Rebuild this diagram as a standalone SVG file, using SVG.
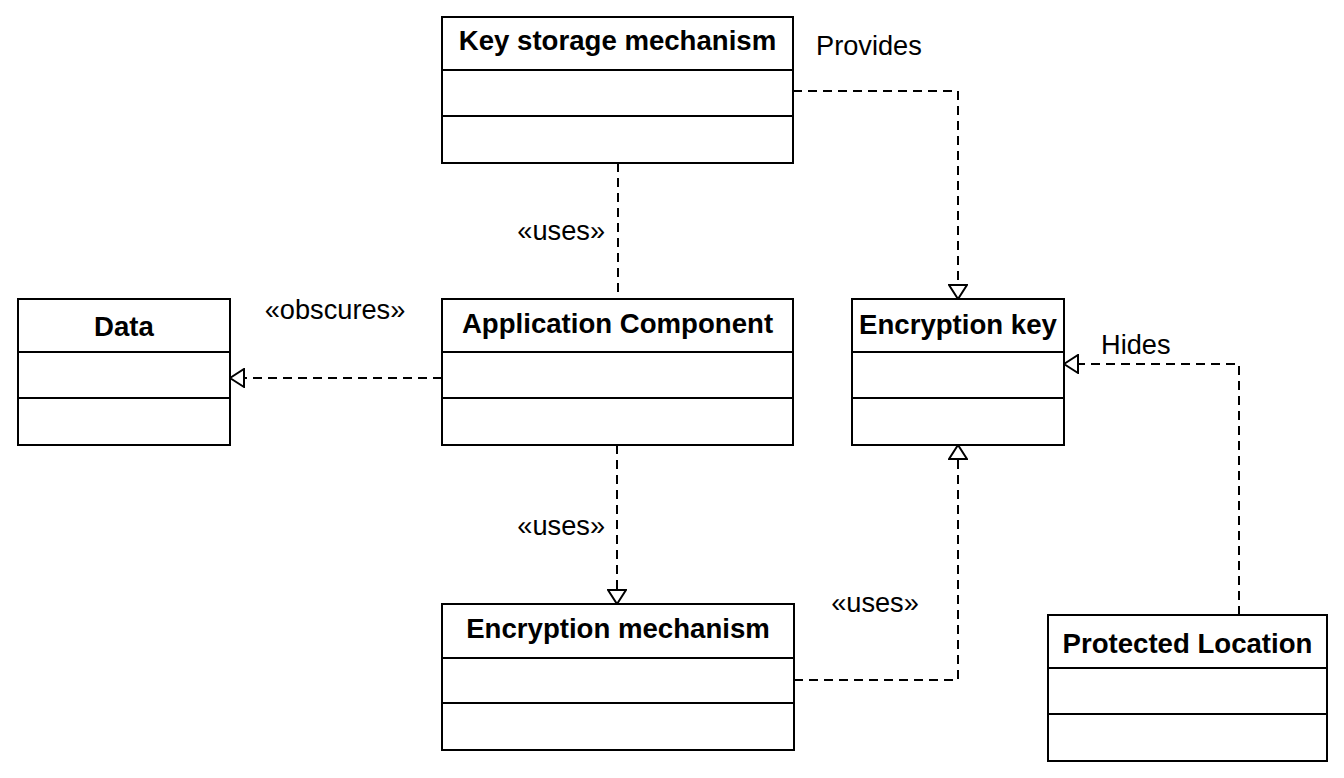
<svg xmlns="http://www.w3.org/2000/svg" width="1344" height="778" viewBox="0 0 1344 778">
<style>
.box{fill:#fff;stroke:#000;stroke-width:2}
.div{stroke:#000;stroke-width:2}
.title{font-family:"Liberation Sans",Arial,sans-serif;font-weight:bold;font-size:27.6px;text-anchor:middle;fill:#000}
.lbl{font-family:"Liberation Sans",Arial,sans-serif;font-size:27.2px;fill:#000}
.edge{fill:none;stroke:#000;stroke-width:2;stroke-dasharray:9 6}
</style>
<defs>
<marker id="tri" viewBox="0 0 16 20" refX="15" refY="10" markerWidth="16" markerHeight="20" markerUnits="userSpaceOnUse" orient="auto">
<path d="M1,1 L15,10 L1,19 Z" fill="#fff" stroke="#000" stroke-width="2"/>
</marker>
</defs>
<rect width="1344" height="778" fill="#fff"/>
<g id="connectors">
<path class="edge" d="M618,163 L618,299"/>
<path class="edge" d="M793,91 L958,91 L958,299" marker-end="url(#tri)"/>
<path class="edge" d="M442,378 L230,378" marker-end="url(#tri)"/>
<path class="edge" d="M617,445 L617,604" marker-end="url(#tri)"/>
<path class="edge" d="M794,680 L958,680 L958,445" marker-end="url(#tri)"/>
<path class="edge" d="M1239,615 L1239,364 L1064,364" marker-end="url(#tri)"/>
<text class="lbl" x="605" y="240" text-anchor="end">«uses»</text>
<text class="lbl" x="816" y="55">Provides</text>
<text class="lbl" x="335" y="319" text-anchor="middle">«obscures»</text>
<text class="lbl" x="605" y="535" text-anchor="end">«uses»</text>
<text class="lbl" x="875" y="612" text-anchor="middle">«uses»</text>
<text class="lbl" x="1101" y="354">Hides</text>
</g>
<g id="key-storage">
<rect class="box" x="442" y="17" width="351" height="146"/>
<line class="div" x1="442" y1="70" x2="793" y2="70"/>
<line class="div" x1="442" y1="116" x2="793" y2="116"/>
<text class="title" x="617.5" y="50">Key storage mechanism</text>
</g>
<g id="app-component">
<rect class="box" x="442" y="299" width="351" height="146"/>
<line class="div" x1="442" y1="352" x2="793" y2="352"/>
<line class="div" x1="442" y1="398" x2="793" y2="398"/>
<text class="title" x="617.5" y="333">Application Component</text>
</g>
<g id="data">
<rect class="box" x="18" y="299" width="212" height="146"/>
<line class="div" x1="18" y1="352" x2="230" y2="352"/>
<line class="div" x1="18" y1="398" x2="230" y2="398"/>
<text class="title" x="124" y="336">Data</text>
</g>
<g id="encryption-key">
<rect class="box" x="852" y="299" width="212" height="146"/>
<line class="div" x1="852" y1="352" x2="1064" y2="352"/>
<line class="div" x1="852" y1="398" x2="1064" y2="398"/>
<text class="title" x="958" y="334">Encryption key</text>
</g>
<g id="encryption-mechanism">
<rect class="box" x="442" y="604" width="352" height="146"/>
<line class="div" x1="442" y1="658" x2="794" y2="658"/>
<line class="div" x1="442" y1="703" x2="794" y2="703"/>
<text class="title" x="618" y="638">Encryption mechanism</text>
</g>
<g id="protected-location">
<rect class="box" x="1048" y="615" width="279" height="146"/>
<line class="div" x1="1048" y1="668" x2="1327" y2="668"/>
<line class="div" x1="1048" y1="714" x2="1327" y2="714"/>
<text class="title" x="1187.5" y="653">Protected Location</text>
</g>
</svg>
